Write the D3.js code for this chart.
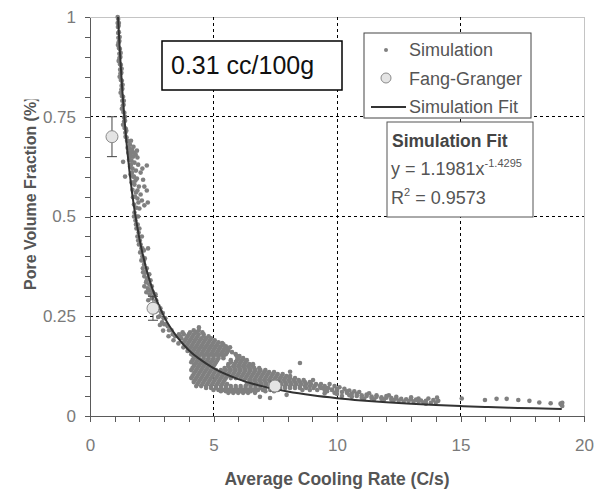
<!DOCTYPE html>
<html>
<head>
<meta charset="utf-8">
<script src="https://cdn.jsdelivr.net/npm/d3@7"></script>
<style>
  body { margin: 0; background: #fff; }
  svg { display: block; font-family: "Liberation Sans", Arial, sans-serif; }
</style>
</head>
<body>
<div id="chart"></div>
<script>
////////////////////////////////////////////////////////////
//////////////////////// Data //////////////////////////////
////////////////////////////////////////////////////////////

var xTicks = [0, 5, 10, 15, 20];
var yTicks = [0, 0.25, 0.5, 0.75, 1];

// Simulation cloud as [cooling rate, pore fraction]
var simulation = [
  // steep branch
  [1.12,1.0],[1.14,0.995],[1.12,0.985],[1.13,0.975],[1.16,0.978],[1.14,0.96],[1.17,0.962],[1.15,0.948],
  [1.16,0.937],[1.19,0.94],[1.17,0.922],[1.21,0.92],[1.19,0.908],[1.19,0.897],[1.23,0.9],[1.21,0.882],
  [1.25,0.88],[1.22,0.868],[1.23,0.858],[1.27,0.86],[1.25,0.842],[1.29,0.84],[1.28,0.828],[1.27,0.818],
  [1.31,0.82],[1.29,0.802],[1.34,0.8],[1.31,0.79],[1.33,0.778],[1.36,0.78],[1.35,0.762],[1.39,0.76],
  [1.38,0.748],[1.38,0.738],[1.42,0.74],[1.40,0.722],[1.45,0.72],[1.43,0.71],[1.44,0.7],[1.48,0.698],
  [1.17,0.985],[1.2,0.95],[1.24,0.91],[1.28,0.87],[1.32,0.83],[1.37,0.79],[1.42,0.75],[1.47,0.715],
  [1.13,0.93],[1.16,0.89],[1.2,0.85],[1.24,0.81],[1.29,0.77],[1.34,0.73],
  // spread around 0.55 - 0.7
  [1.50,0.69],[1.56,0.688],[1.62,0.68],[1.52,0.672],[1.60,0.67],[1.70,0.668],[1.78,0.66],[1.55,0.66],
  [1.64,0.652],[1.74,0.65],[1.85,0.655],[1.92,0.648],[2.30,0.628],[1.58,0.642],[1.68,0.64],[1.80,0.635],
  [1.95,0.63],[1.62,0.625],[1.72,0.62],[1.86,0.615],[2.05,0.61],[1.34,0.637],[1.42,0.60],[1.64,0.605],
  [1.75,0.60],[1.90,0.595],[2.15,0.592],[1.68,0.585],[1.80,0.58],[1.98,0.575],[2.30,0.565],[1.72,0.567],
  [1.86,0.56],[2.05,0.555],[2.34,0.535],[1.74,0.548],[1.92,0.545],[2.10,0.54],[1.78,0.53],[1.88,0.522],
  [2.0,0.52],[2.2,0.528],
  [1.60,0.645],[1.66,0.63],[1.70,0.61],[1.78,0.6],[1.84,0.59],[1.74,0.585],[1.92,0.565],[1.82,0.55],
  [1.96,0.535],[1.68,0.66],[1.76,0.675],[1.66,0.69],[2.2,0.575],[2.12,0.62],[1.9,0.665],
  // band 0.2 - 0.5
  [1.80,0.51],[1.88,0.50],[1.84,0.49],[1.93,0.48],[1.88,0.47],[1.97,0.46],[1.92,0.45],[2.02,0.44],
  [1.98,0.43],[2.08,0.42],[2.35,0.42],[2.03,0.41],[2.12,0.40],[2.08,0.39],[2.19,0.38],[2.14,0.37],
  [2.26,0.36],[2.20,0.35],[2.33,0.345],[2.27,0.335],[2.40,0.33],[2.34,0.32],[2.48,0.315],[2.42,0.305],
  [2.58,0.30],[2.50,0.295],[2.68,0.29],[2.62,0.28],[2.78,0.275],[2.72,0.265],[2.88,0.26],[2.82,0.25],
  [2.98,0.245],[2.92,0.235],[3.08,0.23],[3.2,0.215],[3.35,0.205],[2.15,0.36],[2.2,0.325],[2.28,0.31],
  [2.36,0.29],[2.46,0.278],[2.66,0.262],[2.76,0.248],
  [1.78,0.5],[1.95,0.5],[1.86,0.48],[2.0,0.47],[1.95,0.44],[2.1,0.45],[2.05,0.43],[2.18,0.415],
  [2.12,0.42],[2.22,0.395],[2.18,0.39],[2.3,0.37],[2.25,0.36],[2.4,0.355],[2.3,0.34],[2.45,0.34],
  [2.5,0.325],[2.4,0.315],[2.55,0.31],[2.65,0.305],[2.7,0.28],[2.85,0.27],[2.95,0.258],[3.05,0.245],
  [3.0,0.23],[3.15,0.225],[3.3,0.215],[3.45,0.2],
  [2.83,0.228],[2.96,0.214],[3.18,0.20],[3.38,0.19],[3.58,0.182],[3.78,0.172],[3.95,0.163],
  // main blob
  [4.2,0.215],[4.4,0.215],[4.41,0.222],
  [3.75,0.21],[4.05,0.21],[4.3,0.21],[4.55,0.21],
  [3.6,0.205],[3.8,0.205],[4.0,0.205],[4.2,0.205],[4.4,0.205],[4.6,0.205],
  [3.65,0.2],[3.95,0.2],[4.15,0.2],[4.35,0.2],[4.6,0.2],[4.8,0.2],
  [3.7,0.195],[3.9,0.195],[4.1,0.195],[4.3,0.195],[4.5,0.195],[4.7,0.195],[4.9,0.195],
  [3.85,0.19],[4.05,0.19],[4.25,0.19],[4.45,0.19],[4.65,0.19],[4.85,0.19],[5.05,0.19],
  [3.8,0.185],[4.0,0.185],[4.2,0.185],[4.4,0.185],[4.6,0.185],[4.8,0.185],[5.0,0.185],[5.2,0.185],[5.35,0.183],
  [3.95,0.18],[4.15,0.18],[4.35,0.18],[4.55,0.18],[4.75,0.18],[4.95,0.18],[5.15,0.18],[5.4,0.18],
  [3.9,0.175],[4.1,0.175],[4.3,0.175],[4.5,0.175],[4.7,0.175],[4.9,0.175],[5.1,0.175],[5.3,0.175],[5.5,0.175],[5.67,0.172],
  [4.05,0.17],[4.25,0.17],[4.45,0.17],[4.65,0.17],[4.85,0.17],[5.05,0.17],[5.25,0.17],[5.45,0.17],[5.55,0.168],
  [4.0,0.165],[4.2,0.165],[4.4,0.165],[4.6,0.165],[4.8,0.165],[5.0,0.165],[5.2,0.165],[5.4,0.165],[5.6,0.165],
  [4.15,0.16],[4.35,0.16],[4.55,0.16],[4.75,0.16],[4.95,0.16],[5.15,0.16],[5.35,0.16],[5.55,0.16],[5.75,0.16],
  [4.1,0.155],[4.3,0.155],[4.5,0.155],[4.7,0.155],[4.9,0.155],[5.1,0.155],[5.3,0.155],[5.5,0.155],[5.9,0.155],
  [4.2,0.15],[4.4,0.15],[4.6,0.15],[4.8,0.15],[5.0,0.15],[5.2,0.15],[5.4,0.15],[5.95,0.15],[6.05,0.15],
  [4.2,0.145],[4.4,0.145],[4.6,0.145],[4.8,0.145],[5.0,0.145],[5.2,0.145],[5.4,0.145],[6.0,0.145],[6.2,0.145],
  [4.15,0.14],[4.35,0.14],[4.55,0.14],[4.75,0.14],[4.95,0.14],[5.15,0.14],[5.7,0.14],[5.95,0.14],[6.15,0.14],[6.35,0.14],
  [4.1,0.135],[4.3,0.135],[4.5,0.135],[4.7,0.135],[4.9,0.135],[5.1,0.135],[5.7,0.135],[5.9,0.135],[6.1,0.135],[6.3,0.135],
  [4.25,0.13],[4.45,0.13],[4.65,0.13],[4.85,0.13],[5.05,0.13],[5.6,0.13],[5.85,0.13],[6.05,0.13],[6.25,0.13],[6.45,0.13],[6.6,0.13],
  [4.2,0.125],[4.4,0.125],[4.6,0.125],[4.8,0.125],[5.0,0.125],[5.6,0.125],[5.8,0.125],[6.0,0.125],[6.2,0.125],[6.4,0.125],[6.6,0.125],
  [4.15,0.12],[4.35,0.12],[4.55,0.12],[4.75,0.12],[4.95,0.12],[5.45,0.12],[5.65,0.12],[5.85,0.12],[6.05,0.12],[6.25,0.12],
  [6.45,0.12],[6.65,0.12],[6.85,0.12],
  [4.1,0.115],[4.3,0.115],[4.5,0.115],[4.7,0.115],[4.9,0.115],[5.1,0.115],[5.3,0.115],[5.5,0.115],[5.7,0.115],[5.9,0.115],
  [6.1,0.115],[6.3,0.115],[6.5,0.115],[6.7,0.115],[6.9,0.115],[7.1,0.115],
  [4.25,0.11],[4.45,0.11],[4.65,0.11],[4.85,0.11],[5.05,0.11],[5.25,0.11],[5.45,0.11],[5.65,0.11],[5.85,0.11],[6.05,0.11],
  [6.25,0.11],[6.45,0.11],[6.65,0.11],[6.85,0.11],[7.05,0.11],[7.25,0.11],[7.45,0.11],
  [4.2,0.105],[4.4,0.105],[4.6,0.105],[4.8,0.105],[5.0,0.105],[5.2,0.105],[5.4,0.105],[5.6,0.105],[5.8,0.105],[6.0,0.105],
  [6.2,0.105],[6.4,0.105],[6.6,0.105],[6.8,0.105],[7.0,0.105],[7.2,0.105],[7.4,0.105],[7.6,0.105],[7.8,0.105],
  [4.15,0.1],[4.35,0.1],[4.55,0.1],[4.75,0.1],[4.95,0.1],[5.15,0.1],[5.35,0.1],[5.55,0.1],[5.75,0.1],[5.95,0.1],
  [6.15,0.1],[6.35,0.1],[6.55,0.1],[6.75,0.1],[6.95,0.1],[7.15,0.1],[7.35,0.1],[7.55,0.1],[7.75,0.1],[7.95,0.1],[8.1,0.1],
  [4.1,0.095],[4.3,0.095],[4.5,0.095],[4.7,0.095],[4.9,0.095],[5.1,0.095],[5.3,0.095],[5.5,0.095],[5.7,0.095],[5.9,0.095],
  [6.1,0.095],[6.3,0.095],[6.5,0.095],[6.7,0.095],[6.9,0.095],[7.1,0.095],[7.3,0.095],[7.5,0.095],[7.7,0.095],[7.9,0.095],
  [8.1,0.095],[8.3,0.095],
  [4.25,0.09],[4.45,0.09],[4.65,0.09],[4.85,0.09],[5.05,0.09],[5.25,0.09],[5.45,0.09],[6.25,0.09],[6.45,0.09],[6.65,0.09],
  [6.85,0.09],[7.05,0.09],[7.25,0.09],[7.45,0.09],[7.65,0.09],[7.85,0.09],[8.05,0.09],[8.25,0.09],[8.45,0.09],[8.65,0.09],
  [4.2,0.085],[4.4,0.085],[4.6,0.085],[4.8,0.085],[5.0,0.085],[5.2,0.085],[5.4,0.085],[6.5,0.085],[6.7,0.085],[6.9,0.085],
  [7.1,0.085],[7.3,0.085],[7.5,0.085],[7.7,0.085],[7.9,0.085],[8.1,0.085],[8.3,0.085],[8.5,0.085],[8.7,0.085],[8.9,0.085],
  [4.35,0.08],[4.55,0.08],[4.75,0.08],[4.95,0.08],[5.15,0.08],[5.35,0.08],[5.55,0.08],[6.35,0.08],[6.55,0.08],
  [6.75,0.08],[6.95,0.08],[7.15,0.08],[7.35,0.08],[7.55,0.08],[7.75,0.08],[7.95,0.08],[8.15,0.08],[8.35,0.08],[8.55,0.08],
  [8.75,0.08],[8.95,0.08],[9.15,0.08],[9.35,0.08],
  [4.3,0.075],[4.5,0.075],[4.7,0.075],[4.9,0.075],[5.1,0.075],[5.3,0.075],[5.5,0.075],[5.7,0.075],[5.9,0.075],[6.1,0.075],
  [6.3,0.075],[6.5,0.075],[6.7,0.075],[6.9,0.075],[7.1,0.075],[7.3,0.075],[7.5,0.075],[7.7,0.075],[7.9,0.075],[8.1,0.075],
  [8.3,0.075],[8.5,0.075],[8.7,0.075],[8.9,0.075],[9.1,0.075],[9.3,0.075],[9.5,0.075],
  [4.7,0.07],[4.9,0.07],[5.1,0.07],[5.3,0.07],[5.5,0.07],[5.7,0.07],[5.9,0.07],[6.1,0.07],[6.3,0.07],[6.5,0.07],
  [6.7,0.07],[6.9,0.07],[7.1,0.07],[7.3,0.07],[7.5,0.07],[7.7,0.07],[7.9,0.07],[8.1,0.07],[8.3,0.07],[8.5,0.07],
  [8.75,0.07],[9.05,0.07],[9.35,0.07],[9.65,0.07],
  [5.0,0.065],[5.2,0.065],[5.4,0.065],[5.6,0.065],[5.8,0.065],[6.0,0.065],[6.2,0.065],[6.4,0.065],[6.6,0.065],[6.8,0.065],
  [7.0,0.065],[7.3,0.065],[7.6,0.065],[8.6,0.065],[8.9,0.065],[9.2,0.065],[9.5,0.065],[9.8,0.065],
  [5.3,0.062],[5.5,0.062],[5.7,0.062],[5.9,0.062],[6.1,0.062],[6.3,0.062],[6.5,0.062],[6.7,0.062],[7.1,0.062],[7.45,0.062],
  [5.6,0.058],[5.8,0.058],[6.0,0.058],[6.2,0.058],[6.4,0.058],
  // outliers around the blob
  [8.5,0.133],[8.1,0.111],[9.03,0.09],[6.68,0.058],[6.88,0.048],[7.29,0.045],[7.96,0.053],
  // right band
  [9.6,0.07],[9.8,0.066],[10.0,0.063],[10.2,0.06],[10.4,0.058],[10.6,0.056],[10.8,0.055],[9.7,0.08],
  [9.9,0.075],[10.1,0.072],[10.3,0.068],[10.5,0.064],[10.7,0.062],[10.9,0.06],[10.2,0.05],[10.6,0.048],
  [11.0,0.052],[11.2,0.05],[11.4,0.049],[11.6,0.048],[11.8,0.047],[12.0,0.046],[12.2,0.045],[12.4,0.044],
  [11.1,0.044],[11.5,0.042],[11.9,0.041],[12.3,0.04],[12.6,0.043],[12.8,0.042],[13.0,0.042],[13.2,0.041],
  [13.4,0.039],[13.6,0.038],[12.7,0.036],[13.1,0.036],[13.5,0.034],[13.8,0.033],[14.0,0.034],[14.05,0.046],
  [13.7,0.044],[13.0,0.047],[12.1,0.052],[11.3,0.057],
  [9.4,0.07],[9.6,0.062],[9.9,0.058],[10.0,0.068],[10.4,0.062],[10.8,0.05],[11.0,0.046],[11.2,0.054],
  [11.4,0.045],[11.6,0.052],[11.8,0.043],[12.0,0.05],[12.2,0.041],[12.4,0.048],[12.5,0.038],[12.9,0.038],
  [13.3,0.044],[13.3,0.037],[13.6,0.031],[13.9,0.04],[14.1,0.038],[10.0,0.055],[10.5,0.052],[9.5,0.057],
  // sparse tail
  [15.05,0.044],[15.99,0.04],[16.46,0.043],[16.87,0.043],[17.34,0.04],[17.79,0.038],[18.19,0.034],
  [18.65,0.032],[19.09,0.028],[19.12,0.033],[19.05,0.031],[19.12,0.025]
];

// Fang-Granger measurements with error bars
var fangX = [0.89, 2.55, 7.49];
var fangY = [0.70, 0.27, 0.075];
var fangErr = [0.05, 0.03, 0.012];

// Simulation fit y = 1.1981x^-1.4295
var fitX = [1.135, 1.2, 1.3, 1.4, 1.5, 1.7, 2, 2.3, 2.6, 3, 3.5, 4, 4.5, 5, 6, 7, 8, 9, 10, 11, 12, 13, 14, 15, 16, 17, 18, 19.1];
var fitY = [1.0, 0.923, 0.823, 0.741, 0.671, 0.561, 0.445, 0.364, 0.306, 0.249, 0.200, 0.165, 0.140, 0.120,
            0.0925, 0.0742, 0.0613, 0.0518, 0.0446, 0.0389, 0.0343, 0.0306, 0.0275, 0.025, 0.0228, 0.0209, 0.0192, 0.0177];

////////////////////////////////////////////////////////////
//////////////////////// Set-up ////////////////////////////
////////////////////////////////////////////////////////////

var width = 595, height = 489;
var margin = { left: 90, top: 17, right: 11, bottom: 73 };

var svg = d3.select("#chart").append("svg")
    .attr("width", width)
    .attr("height", height);

var x = d3.scaleLinear().domain([0, 20]).range([margin.left, width - margin.right]);
var y = d3.scaleLinear().domain([0, 1]).range([height - margin.bottom, margin.top]);

var axisGrey = "#5a5a5a";

////////////////////////////////////////////////////////////
//////////////////////// Grid //////////////////////////////
////////////////////////////////////////////////////////////

// light frame on top and right
svg.append("path")
    .attr("d", "M" + x(0) + "," + y(1) + "H" + x(20) + "V" + y(0))
    .attr("fill", "none")
    .attr("stroke", "#c4c4c4")
    .attr("shape-rendering", "crispEdges");

svg.selectAll(".vgrid")
    .data(xTicks.slice(1, -1))
    .enter().append("line")
    .attr("x1", function (d) { return x(d); })
    .attr("x2", function (d) { return x(d); })
    .attr("y1", y(0)).attr("y2", y(1))
    .attr("stroke", "#000")
    .attr("stroke-dasharray", "3,3")
    .attr("shape-rendering", "crispEdges");

svg.selectAll(".hgrid")
    .data(yTicks.slice(1, -1))
    .enter().append("line")
    .attr("x1", x(0)).attr("x2", x(20))
    .attr("y1", function (d) { return y(d); })
    .attr("y2", function (d) { return y(d); })
    .attr("stroke", "#000")
    .attr("stroke-dasharray", "3,3")
    .attr("shape-rendering", "crispEdges");

////////////////////////////////////////////////////////////
//////////////////////// Axes //////////////////////////////
////////////////////////////////////////////////////////////

//Minor ticks (every 1 on x, every 0.05 on y) with the axis lines
var gx = svg.append("g")
    .attr("transform", "translate(0," + y(0) + ")")
    .call(d3.axisBottom(x).tickValues(d3.range(0, 21, 1)).tickSize(6).tickSizeOuter(0).tickFormat(""));
var gy = svg.append("g")
    .attr("transform", "translate(" + x(0) + ",0)")
    .call(d3.axisLeft(y).tickValues(d3.range(0, 1.001, 0.05)).tickSize(5).tickSizeOuter(0).tickFormat(""));

[gx, gy].forEach(function (g) {
    g.selectAll("path, line").attr("stroke", axisGrey).attr("shape-rendering", "crispEdges");
});

//Tick labels
var gxl = svg.append("g")
    .attr("transform", "translate(0," + y(0) + ")")
    .call(d3.axisBottom(x).tickValues(xTicks).tickSize(0).tickPadding(23).tickFormat(function (d) { return String(d); }));
var gyl = svg.append("g")
    .attr("transform", "translate(" + x(0) + ",0)")
    .call(d3.axisLeft(y).tickValues(yTicks).tickSize(0).tickPadding(14).tickFormat(function (d) { return String(d); }));

[gxl, gyl].forEach(function (g) {
    g.select(".domain").remove();
    g.selectAll("text")
        .attr("font-family", "'Liberation Sans', Arial, sans-serif")
        .attr("font-size", 17)
        .attr("fill", "#7a7a7a");
});

//Axis titles
svg.append("text")
    .attr("x", (x(0) + x(20)) / 2)
    .attr("y", 485)
    .attr("text-anchor", "middle")
    .attr("font-size", 17.5)
    .attr("font-weight", "bold")
    .attr("fill", "#555")
    .text("Average Cooling Rate (C/s)");

//The y title is cut at the top in the original figure
svg.append("clipPath").attr("id", "ytitleClip")
    .append("rect").attr("x", 0).attr("y", 99.5).attr("width", 60).attr("height", 300);

svg.append("g").attr("clip-path", "url(#ytitleClip)")
    .append("text")
    .attr("transform", "translate(36,290) rotate(-90)")
    .attr("text-anchor", "start")
    .attr("font-size", 16)
    .attr("font-weight", "bold")
    .attr("fill", "#555")
    .text("Pore Volume Fraction (%)");

////////////////////////////////////////////////////////////
//////////////////////// Marks /////////////////////////////
////////////////////////////////////////////////////////////

svg.append("g").selectAll("circle")
    .data(simulation)
    .enter().append("circle")
    .attr("cx", function (d) { return x(d[0]); })
    .attr("cy", function (d) { return y(d[1]); })
    .attr("r", 2.3)
    .attr("fill", "#808080");

var line = d3.line()
    .x(function (d, i) { return x(fitX[i]); })
    .y(function (d, i) { return y(fitY[i]); })
    .curve(d3.curveMonotoneX);

svg.append("path")
    .datum(fitX)
    .attr("d", line)
    .attr("fill", "none")
    .attr("stroke", "#333")
    .attr("stroke-width", 2);

//Fang-Granger points with error bars
var fang = svg.append("g").selectAll("g")
    .data(fangX)
    .enter().append("g");

fang.append("line")
    .attr("x1", function (d) { return x(d); })
    .attr("x2", function (d) { return x(d); })
    .attr("y1", function (d, i) { return y(fangY[i] - fangErr[i]); })
    .attr("y2", function (d, i) { return y(fangY[i] + fangErr[i]); })
    .attr("stroke", "#444");

[-1, 1].forEach(function (s) {
    fang.append("line")
        .attr("x1", function (d) { return x(d) - 5; })
        .attr("x2", function (d) { return x(d) + 5; })
        .attr("y1", function (d, i) { return y(fangY[i] + s * fangErr[i]); })
        .attr("y2", function (d, i) { return y(fangY[i] + s * fangErr[i]); })
        .attr("stroke", "#444");
});

fang.append("circle")
    .attr("cx", function (d) { return x(d); })
    .attr("cy", function (d, i) { return y(fangY[i]); })
    .attr("r", 6)
    .attr("fill", "#e4e4e4")
    .attr("stroke", "#8a8a8a");

////////////////////////////////////////////////////////////
//////////////////////// Annotations ///////////////////////
////////////////////////////////////////////////////////////

//Loading label
svg.append("rect")
    .attr("x", 162).attr("y", 41).attr("width", 180).attr("height", 49)
    .attr("fill", "#fff").attr("stroke", "#000").attr("stroke-width", 1.5);
svg.append("text")
    .attr("x", 171).attr("y", 74)
    .attr("font-size", 25)
    .attr("fill", "#111")
    .text("0.31 cc/100g");

//Legend
var legend = svg.append("g");
legend.append("rect")
    .attr("x", 364).attr("y", 33).attr("width", 167).attr("height", 85)
    .attr("fill", "#fff").attr("stroke", "#444");
legend.append("circle").attr("cx", 386).attr("cy", 50).attr("r", 2).attr("fill", "#808080");
legend.append("circle").attr("cx", 386).attr("cy", 78).attr("r", 5)
    .attr("fill", "#e4e4e4").attr("stroke", "#8a8a8a");
legend.append("line").attr("x1", 371).attr("x2", 406).attr("y1", 107).attr("y2", 107)
    .attr("stroke", "#333").attr("stroke-width", 2);
legend.selectAll("text")
    .data(["Simulation", "Fang-Granger", "Simulation Fit"])
    .enter().append("text")
    .attr("x", 409)
    .attr("y", function (d, i) { return 56 + i * 28.5; })
    .attr("font-size", 18)
    .attr("fill", "#555")
    .text(function (d) { return d; });

//Fit equation box
var eq = svg.append("g");
eq.append("rect")
    .attr("x", 387).attr("y", 122).attr("width", 146).attr("height", 95)
    .attr("fill", "#fff").attr("stroke", "#555");
eq.append("text")
    .attr("x", 392).attr("y", 147)
    .attr("font-size", 17.5).attr("font-weight", "bold").attr("fill", "#444")
    .text("Simulation Fit");
var eqLine = eq.append("text")
    .attr("x", 391).attr("y", 175)
    .attr("font-size", 18).attr("fill", "#555");
eqLine.append("tspan").text("y = 1.1981x");
eqLine.append("tspan").attr("font-size", 11).attr("dy", -8).text("-1.4295");
var r2Line = eq.append("text")
    .attr("x", 391).attr("y", 204)
    .attr("font-size", 18).attr("fill", "#555");
r2Line.append("tspan").text("R");
r2Line.append("tspan").attr("font-size", 11).attr("dy", -8).text("2");
r2Line.append("tspan").attr("dy", 8).text(" = 0.9573");
</script>
</body>
</html>
